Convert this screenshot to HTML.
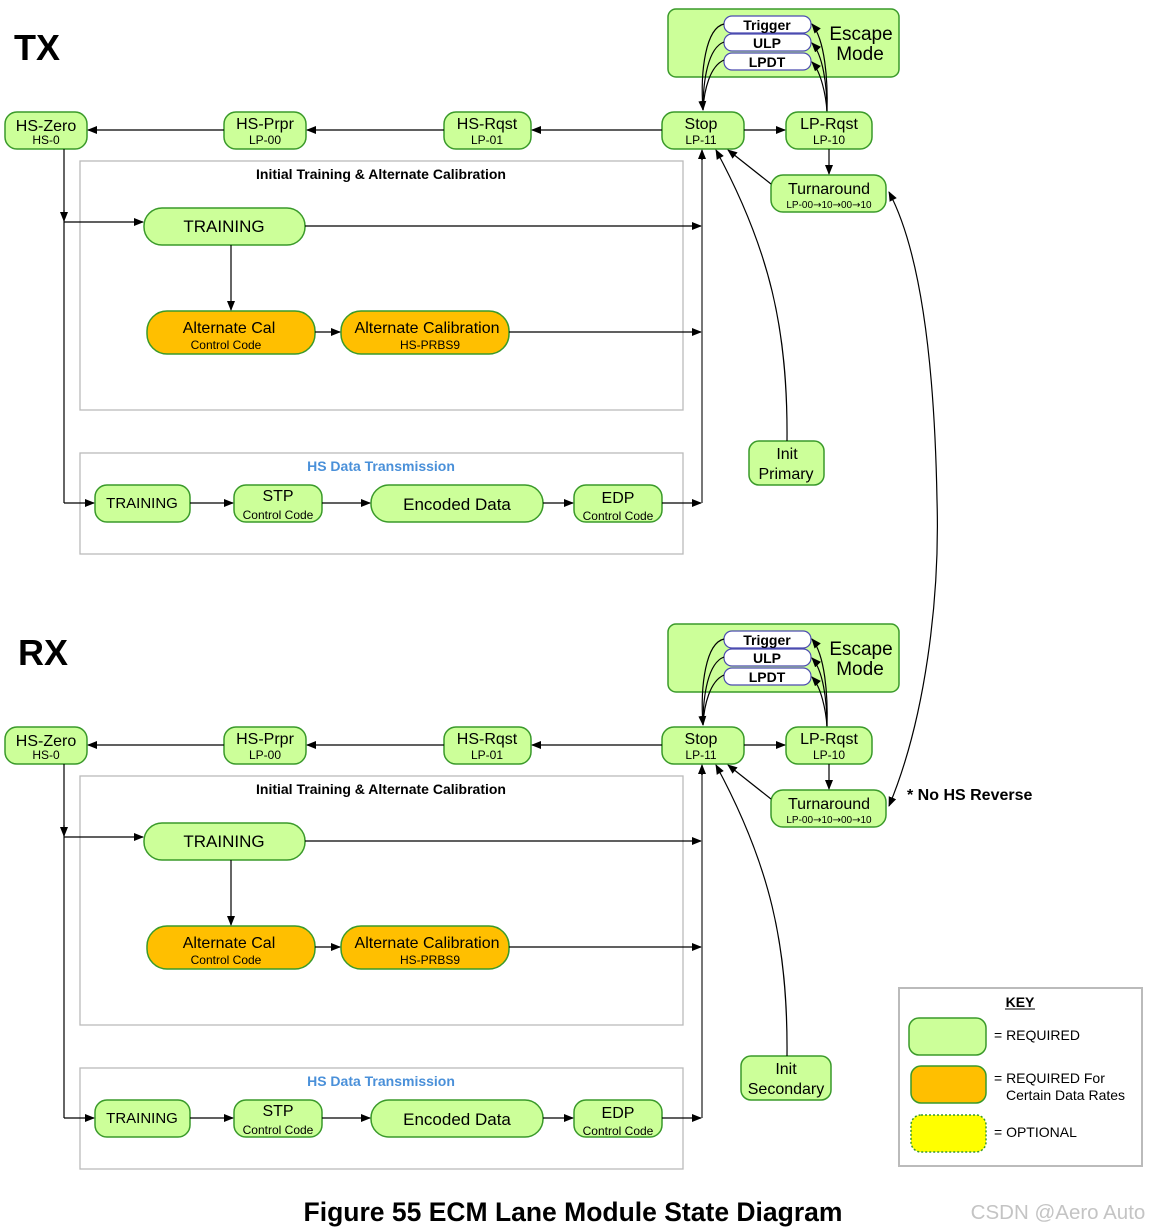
<!DOCTYPE html>
<html><head><meta charset="utf-8"><style>
html,body{margin:0;padding:0;background:#fff}
svg{display:block}
text{font-family:"Liberation Sans",Arial,sans-serif;fill:#000}
.g{fill:#ccff99;stroke:#3a9a2a;stroke-width:1.5}
.o{fill:#ffbf00;stroke:#3a9a2a;stroke-width:1.5}
.w{fill:#fff;stroke:#4b4bb0;stroke-width:1.2}
.ln{stroke:#000;stroke-width:1.2;fill:none}
.gl{stroke:#777;stroke-width:2;fill:none}
.bx{fill:#fff;stroke:#bbb;stroke-width:1.3}
.t1{font-size:16px}
.t2{font-size:12px}
.b{font-weight:bold}
.ar{font-family:"DejaVu Sans",sans-serif}
</style></head><body>
<svg width="1151" height="1231" viewBox="0 0 1151 1231" xmlns="http://www.w3.org/2000/svg">
<defs>
<marker id="a" markerWidth="10" markerHeight="8" refX="9" refY="4" orient="auto-start-reverse" markerUnits="userSpaceOnUse"><path d="M0,0 L10,4 L0,8 z" fill="#000"/></marker>
</defs>

<text x="14" y="60" font-size="36" class="b">TX</text>
<text x="18" y="665" font-size="36" class="b">RX</text>

<g id="tx">
<rect class="bx" x="80" y="161" width="603" height="249"/>
<text x="381" y="179" font-size="14" class="b" text-anchor="middle">Initial Training &amp; Alternate Calibration</text>
<rect class="bx" x="80" y="453" width="603" height="101"/>
<text x="381" y="471" font-size="14" class="b" text-anchor="middle" style="fill:#4a90d9">HS Data Transmission</text>

<rect class="g" x="668" y="9" width="231" height="68" rx="8"/>
<text x="861" y="40" font-size="19" text-anchor="middle">Escape</text>
<text x="860" y="60" font-size="19" text-anchor="middle">Mode</text>
<rect class="w" x="724" y="16" width="87" height="17" rx="8"/>
<text x="767" y="30" font-size="14" class="b" text-anchor="middle">Trigger</text>
<rect class="w" x="724" y="34" width="87" height="17" rx="8"/>
<text x="767" y="48" font-size="14" class="b" text-anchor="middle">ULP</text>
<rect class="w" x="724" y="53" width="87" height="17" rx="8"/>
<text x="767" y="67" font-size="14" class="b" text-anchor="middle">LPDT</text>
<path class="ln" d="M724,24 C706,28 700,70 703,110" marker-end="url(#a)"/>
<path class="ln" d="M724,42 C708,48 703,80 703,110"/>
<path class="ln" d="M724,60 C710,66 704,90 703,110"/>
<path class="ln" d="M827,112 C828,80 825,40 812,24" marker-end="url(#a)"/>
<path class="ln" d="M827,112 C827,85 823,55 812,43" marker-end="url(#a)"/>
<path class="ln" d="M827,112 C826,95 821,72 812,62" marker-end="url(#a)"/>

<rect class="g" x="662" y="112" width="82" height="37" rx="12"/>
<text x="701" y="129" class="t1" text-anchor="middle">Stop</text>
<text x="701" y="144" class="t2" text-anchor="middle">LP-11</text>
<rect class="g" x="786" y="112" width="86" height="37" rx="12"/>
<text x="829" y="129" class="t1" text-anchor="middle">LP-Rqst</text>
<text x="829" y="144" class="t2" text-anchor="middle">LP-10</text>
<rect class="g" x="771" y="175" width="115" height="37" rx="12"/>
<text x="829" y="194" class="t1" text-anchor="middle">Turnaround</text>
<text x="829" y="208" font-size="10" text-anchor="middle">LP-00<tspan class="ar">→</tspan>10<tspan class="ar">→</tspan>00<tspan class="ar">→</tspan>10</text>
<rect class="g" x="444" y="112" width="87" height="37" rx="12"/>
<text x="487" y="129" class="t1" text-anchor="middle">HS-Rqst</text>
<text x="487" y="144" class="t2" text-anchor="middle">LP-01</text>
<rect class="g" x="224" y="112" width="82" height="37" rx="12"/>
<text x="265" y="129" class="t1" text-anchor="middle">HS-Prpr</text>
<text x="265" y="144" class="t2" text-anchor="middle">LP-00</text>
<rect class="g" x="5" y="112" width="82" height="37" rx="12"/>
<text x="46" y="131" class="t1" text-anchor="middle">HS-Zero</text>
<text x="46" y="144" class="t2" text-anchor="middle">HS-0</text>

<line class="ln" x1="744" y1="130" x2="785" y2="130" marker-end="url(#a)"/>
<line class="ln" x1="829" y1="149" x2="829" y2="174" marker-end="url(#a)"/>
<line class="ln" x1="662" y1="130" x2="532" y2="130" marker-end="url(#a)"/>
<line class="ln" x1="444" y1="130" x2="307" y2="130" marker-end="url(#a)"/>
<line class="ln" x1="224" y1="130" x2="88" y2="130" marker-end="url(#a)"/>
<line class="ln" x1="771" y1="184" x2="728" y2="150" marker-end="url(#a)"/>

<rect class="g" x="144" y="208" width="161" height="37" rx="18"/>
<text x="224" y="232" font-size="17" text-anchor="middle">TRAINING</text>
<rect class="o" x="147" y="311" width="168" height="43" rx="20"/>
<text x="229" y="333" class="t1" text-anchor="middle">Alternate Cal</text>
<text x="226" y="349" class="t2" text-anchor="middle">Control Code</text>
<rect class="o" x="341" y="311" width="168" height="43" rx="20"/>
<text x="427" y="333" class="t1" text-anchor="middle">Alternate Calibration</text>
<text x="430" y="349" class="t2" text-anchor="middle">HS-PRBS9</text>
<line class="ln" x1="231" y1="245" x2="231" y2="310" marker-end="url(#a)"/>
<line class="ln" x1="315" y1="332" x2="340" y2="332" marker-end="url(#a)"/>

<rect class="g" x="95" y="485" width="95" height="37" rx="12"/>
<text x="142" y="508" font-size="15" text-anchor="middle">TRAINING</text>
<rect class="g" x="234" y="485" width="88" height="37" rx="12"/>
<text x="278" y="501" class="t1" text-anchor="middle">STP</text>
<text x="278" y="519" class="t2" text-anchor="middle">Control Code</text>
<rect class="g" x="371" y="485" width="172" height="37" rx="18"/>
<text x="457" y="510" font-size="17" text-anchor="middle">Encoded Data</text>
<rect class="g" x="574" y="485" width="88" height="37" rx="12"/>
<text x="618" y="503" class="t1" text-anchor="middle">EDP</text>
<text x="618" y="520" class="t2" text-anchor="middle">Control Code</text>
<line class="ln" x1="190" y1="503" x2="233" y2="503" marker-end="url(#a)"/>
<line class="ln" x1="322" y1="503" x2="370" y2="503" marker-end="url(#a)"/>
<line class="ln" x1="543" y1="503" x2="573" y2="503" marker-end="url(#a)"/>

<line class="ln" x1="64" y1="149" x2="64" y2="503"/>
<line class="ln" x1="64" y1="210" x2="64" y2="221" marker-end="url(#a)"/>
<line class="ln" x1="64" y1="222" x2="143" y2="222" marker-end="url(#a)"/>
<line class="ln" x1="64" y1="503" x2="94" y2="503" marker-end="url(#a)"/>
<line class="gl" x1="702" y1="503" x2="702" y2="156"/>
<line class="ln" x1="702" y1="160" x2="702" y2="150" marker-end="url(#a)"/>
<line class="ln" x1="305" y1="226" x2="701" y2="226" marker-end="url(#a)"/>
<line class="ln" x1="509" y1="332" x2="701" y2="332" marker-end="url(#a)"/>
<line class="ln" x1="662" y1="503" x2="701" y2="503" marker-end="url(#a)"/>
</g>

<g transform="translate(0,615)">
<rect class="bx" x="80" y="161" width="603" height="249"/>
<text x="381" y="179" font-size="14" class="b" text-anchor="middle">Initial Training &amp; Alternate Calibration</text>
<rect class="bx" x="80" y="453" width="603" height="101"/>
<text x="381" y="471" font-size="14" class="b" text-anchor="middle" style="fill:#4a90d9">HS Data Transmission</text>

<rect class="g" x="668" y="9" width="231" height="68" rx="8"/>
<text x="861" y="40" font-size="19" text-anchor="middle">Escape</text>
<text x="860" y="60" font-size="19" text-anchor="middle">Mode</text>
<rect class="w" x="724" y="16" width="87" height="17" rx="8"/>
<text x="767" y="30" font-size="14" class="b" text-anchor="middle">Trigger</text>
<rect class="w" x="724" y="34" width="87" height="17" rx="8"/>
<text x="767" y="48" font-size="14" class="b" text-anchor="middle">ULP</text>
<rect class="w" x="724" y="53" width="87" height="17" rx="8"/>
<text x="767" y="67" font-size="14" class="b" text-anchor="middle">LPDT</text>
<path class="ln" d="M724,24 C706,28 700,70 703,110" marker-end="url(#a)"/>
<path class="ln" d="M724,42 C708,48 703,80 703,110"/>
<path class="ln" d="M724,60 C710,66 704,90 703,110"/>
<path class="ln" d="M827,112 C828,80 825,40 812,24" marker-end="url(#a)"/>
<path class="ln" d="M827,112 C827,85 823,55 812,43" marker-end="url(#a)"/>
<path class="ln" d="M827,112 C826,95 821,72 812,62" marker-end="url(#a)"/>

<rect class="g" x="662" y="112" width="82" height="37" rx="12"/>
<text x="701" y="129" class="t1" text-anchor="middle">Stop</text>
<text x="701" y="144" class="t2" text-anchor="middle">LP-11</text>
<rect class="g" x="786" y="112" width="86" height="37" rx="12"/>
<text x="829" y="129" class="t1" text-anchor="middle">LP-Rqst</text>
<text x="829" y="144" class="t2" text-anchor="middle">LP-10</text>
<rect class="g" x="771" y="175" width="115" height="37" rx="12"/>
<text x="829" y="194" class="t1" text-anchor="middle">Turnaround</text>
<text x="829" y="208" font-size="10" text-anchor="middle">LP-00<tspan class="ar">→</tspan>10<tspan class="ar">→</tspan>00<tspan class="ar">→</tspan>10</text>
<rect class="g" x="444" y="112" width="87" height="37" rx="12"/>
<text x="487" y="129" class="t1" text-anchor="middle">HS-Rqst</text>
<text x="487" y="144" class="t2" text-anchor="middle">LP-01</text>
<rect class="g" x="224" y="112" width="82" height="37" rx="12"/>
<text x="265" y="129" class="t1" text-anchor="middle">HS-Prpr</text>
<text x="265" y="144" class="t2" text-anchor="middle">LP-00</text>
<rect class="g" x="5" y="112" width="82" height="37" rx="12"/>
<text x="46" y="131" class="t1" text-anchor="middle">HS-Zero</text>
<text x="46" y="144" class="t2" text-anchor="middle">HS-0</text>

<line class="ln" x1="744" y1="130" x2="785" y2="130" marker-end="url(#a)"/>
<line class="ln" x1="829" y1="149" x2="829" y2="174" marker-end="url(#a)"/>
<line class="ln" x1="662" y1="130" x2="532" y2="130" marker-end="url(#a)"/>
<line class="ln" x1="444" y1="130" x2="307" y2="130" marker-end="url(#a)"/>
<line class="ln" x1="224" y1="130" x2="88" y2="130" marker-end="url(#a)"/>
<line class="ln" x1="771" y1="184" x2="728" y2="150" marker-end="url(#a)"/>

<rect class="g" x="144" y="208" width="161" height="37" rx="18"/>
<text x="224" y="232" font-size="17" text-anchor="middle">TRAINING</text>
<rect class="o" x="147" y="311" width="168" height="43" rx="20"/>
<text x="229" y="333" class="t1" text-anchor="middle">Alternate Cal</text>
<text x="226" y="349" class="t2" text-anchor="middle">Control Code</text>
<rect class="o" x="341" y="311" width="168" height="43" rx="20"/>
<text x="427" y="333" class="t1" text-anchor="middle">Alternate Calibration</text>
<text x="430" y="349" class="t2" text-anchor="middle">HS-PRBS9</text>
<line class="ln" x1="231" y1="245" x2="231" y2="310" marker-end="url(#a)"/>
<line class="ln" x1="315" y1="332" x2="340" y2="332" marker-end="url(#a)"/>

<rect class="g" x="95" y="485" width="95" height="37" rx="12"/>
<text x="142" y="508" font-size="15" text-anchor="middle">TRAINING</text>
<rect class="g" x="234" y="485" width="88" height="37" rx="12"/>
<text x="278" y="501" class="t1" text-anchor="middle">STP</text>
<text x="278" y="519" class="t2" text-anchor="middle">Control Code</text>
<rect class="g" x="371" y="485" width="172" height="37" rx="18"/>
<text x="457" y="510" font-size="17" text-anchor="middle">Encoded Data</text>
<rect class="g" x="574" y="485" width="88" height="37" rx="12"/>
<text x="618" y="503" class="t1" text-anchor="middle">EDP</text>
<text x="618" y="520" class="t2" text-anchor="middle">Control Code</text>
<line class="ln" x1="190" y1="503" x2="233" y2="503" marker-end="url(#a)"/>
<line class="ln" x1="322" y1="503" x2="370" y2="503" marker-end="url(#a)"/>
<line class="ln" x1="543" y1="503" x2="573" y2="503" marker-end="url(#a)"/>

<line class="ln" x1="64" y1="149" x2="64" y2="503"/>
<line class="ln" x1="64" y1="210" x2="64" y2="221" marker-end="url(#a)"/>
<line class="ln" x1="64" y1="222" x2="143" y2="222" marker-end="url(#a)"/>
<line class="ln" x1="64" y1="503" x2="94" y2="503" marker-end="url(#a)"/>
<line class="gl" x1="702" y1="503" x2="702" y2="156"/>
<line class="ln" x1="702" y1="160" x2="702" y2="150" marker-end="url(#a)"/>
<line class="ln" x1="305" y1="226" x2="701" y2="226" marker-end="url(#a)"/>
<line class="ln" x1="509" y1="332" x2="701" y2="332" marker-end="url(#a)"/>
<line class="ln" x1="662" y1="503" x2="701" y2="503" marker-end="url(#a)"/>
</g>

<rect class="g" x="749" y="441" width="75" height="44" rx="10"/>
<text x="787" y="459" class="t1" text-anchor="middle">Init</text>
<text x="786" y="479" class="t1" text-anchor="middle">Primary</text>
<path class="ln" d="M787,441 C788,330 770,250 716,150" marker-end="url(#a)"/>
<rect class="g" x="741" y="1056" width="90" height="44" rx="10"/>
<text x="786" y="1074" class="t1" text-anchor="middle">Init</text>
<text x="786" y="1094" class="t1" text-anchor="middle">Secondary</text>
<path class="ln" d="M787,1056 C788,945 770,865 716,765" marker-end="url(#a)"/>

<path class="ln" d="M889,806 C925,720 940,600 937,500 C935,390 925,260 889,192" marker-start="url(#a)" marker-end="url(#a)"/>
<text x="907" y="800" font-size="16" class="b">* No HS Reverse</text>

<rect x="899" y="988" width="243" height="178" fill="#fff" stroke="#bbb" stroke-width="2"/>
<text x="1020" y="1007" font-size="14" class="b" text-anchor="middle">KEY</text>
<line x1="1005" y1="1009" x2="1035" y2="1009" stroke="#000" stroke-width="1"/>
<rect class="g" x="909" y="1018" width="77" height="37" rx="10"/>
<text x="994" y="1040" font-size="14">= REQUIRED</text>
<rect class="o" x="911" y="1066" width="75" height="37" rx="10"/>
<text x="994" y="1083" font-size="14">= REQUIRED For</text>
<text x="1006" y="1100" font-size="14">Certain Data Rates</text>
<rect x="911" y="1115" width="75" height="37" rx="10" fill="#ffff00" stroke="#3a9a2a" stroke-width="1.5" stroke-dasharray="2,2"/>
<text x="994" y="1137" font-size="14">= OPTIONAL</text>

<text x="573" y="1221" font-size="26.5" class="b" text-anchor="middle">Figure 55 ECM Lane Module State Diagram</text>
<text x="1058" y="1219" font-size="20.5" text-anchor="middle" style="fill:#c4c4c4">CSDN @Aero Auto</text>
</svg>
</body></html>
